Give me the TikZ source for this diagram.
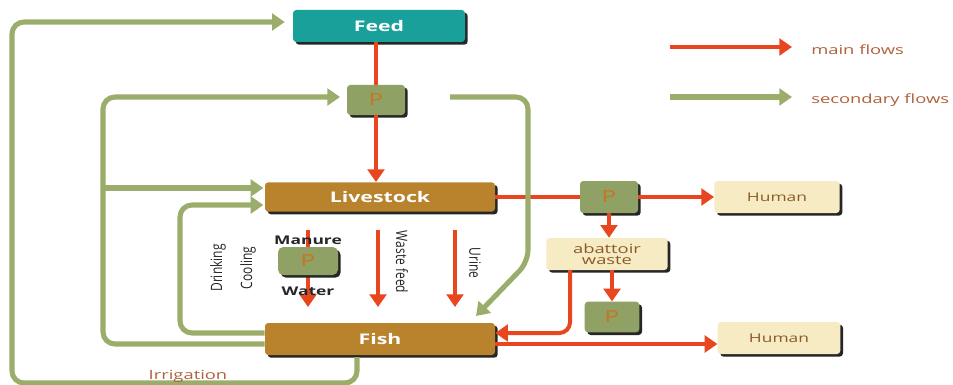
\documentclass[tikz,border=0pt]{standalone}
\usepackage{fontspec}
\setmainfont{Open Sans}
\newfontfamily\wf[FakeStretch=1.45]{Open Sans}
\newcommand\wfb{\wf\bfseries}
\newcommand\tallt[1]{\scalebox{1}[1.3]{#1}}
\usetikzlibrary{arrows.meta,shadows}
\definecolor{cred}{HTML}{E8461E}
\definecolor{cgreen}{HTML}{9BAD6B}
\definecolor{cteal}{HTML}{1AA09A}
\definecolor{cbrown}{HTML}{B8832C}
\definecolor{ccream}{HTML}{F6EBC2}
\definecolor{cpgreen}{HTML}{8FA165}
\definecolor{cptext}{HTML}{C8751E}
\definecolor{chtext}{HTML}{8B5A2B}
\definecolor{cltext}{HTML}{B0603A}
\tikzset{
  box/.style={rectangle, rounded corners=2.5pt, inner sep=0pt,
    drop shadow={shadow xshift=2pt, shadow yshift=-2pt, fill=black!85, opacity=1}},
  tealbox/.style={box, fill=cteal, text=white, font=\wfb\fontsize{11}{12}\selectfont},
  brownbox/.style={box, fill=cbrown, text=white, font=\wfb\fontsize{11}{12}\selectfont},
  creambox/.style={box, fill=ccream, text=chtext, font=\wf\fontsize{9}{10}\selectfont, align=center},
  pbox/.style={box, fill=cpgreen, text=cptext, font=\wf\fontsize{12.5}{13}\selectfont},
  mainflow/.style={draw=cred, line width=3pt, -{Triangle[width=12.5pt,length=9.5pt]}},
  mainline/.style={draw=cred, line width=3pt},
  secflow/.style={draw=cgreen, line width=3.8pt, rounded corners=9pt, -{Triangle[width=12.5pt,length=9.5pt]}},
  lbl/.style={font=\wf\fontsize{9.5}{10}\selectfont, text=cltext, inner sep=0pt},
  dlbl/.style={font=\fontsize{9}{10}\selectfont, text=black!85, inner sep=0pt},
}
\begin{document}
\begin{tikzpicture}[x=0.75pt,y=-0.75pt]
\useasboundingbox[fill=white] (0,0) rectangle (953,385);

% legend
\coordinate (lr1) at (670,47); \coordinate (lr2) at (792,47);
\coordinate (lg1) at (670,97); \coordinate (lg2) at (792,97);
\draw[mainflow] (lr1) -- (lr2);
\draw[secflow] (lg1) -- (lg2);
\node[lbl, anchor=west] (lmain) at (811,50) {main flows};
\node[lbl, anchor=west] (lsec) at (811,100) {secondary flows};

% arrows behind manure P box
\coordinate (ma1) at (308,230); \coordinate (ma2) at (308,307);
\coordinate (wf1) at (378,230); \coordinate (wf2) at (378,307);
\coordinate (ur1) at (455,230); \coordinate (ur2) at (455,307);
\draw[mainflow] (ma1) -- (ma2);
\draw[mainflow] (wf1) -- (wf2);
\draw[mainflow] (ur1) -- (ur2);

% nodes
\node[tealbox, minimum width=129pt, minimum height=24pt] (feed) at (379,26) {Feed};
\node[pbox, minimum width=43.5pt, minimum height=22.5pt] (p1) at (376,100) {P};
\node[brownbox, minimum width=172.5pt, minimum height=22pt] (live) at (380,197) {Livestock};
\node[brownbox, minimum width=172.5pt, minimum height=24pt] (fish) at (380,339) {Fish};
\node[pbox, minimum width=43.5pt, minimum height=24pt] (p2) at (609,197) {P};
\node[creambox, minimum width=94pt, minimum height=24pt] (h1) at (777,197) {Human};
\node[creambox, minimum width=91pt, minimum height=24pt, font=\wf\fontsize{9.5}{8.5}\selectfont] (ab) at (607,254) {abattoir\\waste};
\node[pbox, minimum width=41pt, minimum height=23pt] (p3) at (612,317) {P};
\node[creambox, minimum width=92pt, minimum height=24pt] (h2) at (779,338) {Human};
\node[pbox, minimum width=45pt, minimum height=21pt, rounded corners=4pt] (pm) at (308,261) {P};

% labels
\node[dlbl, font=\wfb\fontsize{9}{10}\selectfont] (manure) at (308,240) {Manure};
\node[dlbl, font=\wfb\fontsize{9}{10}\selectfont] (water) at (308,291) {Water};
\node[dlbl, rotate=90] (drink) at (218,268) {\tallt{Drinking}};
\node[dlbl, rotate=90] (cool) at (248,268) {\tallt{Cooling}};
\node[dlbl, rotate=-90] (waste) at (402,262) {\tallt{Waste feed}};
\node[dlbl, rotate=-90] (urine) at (475,263) {\tallt{Urine}};

% main flows
\draw[mainline] (feed.south -| p1.north) -- (p1.north);
\draw[mainflow] (p1.south) -- (p1.south |- live.north);
\draw[mainline] (live.east) -- (p2.west);
\draw[mainflow] (p2.east) -- (h1.west);
\draw[mainflow] (p2.south) -- (p2.south |- ab.north);
\draw[mainflow] (ab.south -| p3.north) -- (p3.north);
\coordinate (ab1) at (570,270);
\draw[mainflow, rounded corners=8pt] (ab1) -- (570,333) -- (fish.east |- 0,333);
\draw[mainflow] (fish.east |- 0,344) -- (h2.west |- 0,344);

% secondary flows
\coordinate (irr) at (357,357);
\draw[secflow] (irr) -- (357,383) -- (12,383) -- (12,22) -- ([xshift=-6pt]feed.west |- 0,22);
\draw[secflow] (fish.west |- 0,344) -- (103,344) -- (103,97) -- ([xshift=-5pt]p1.west |- 0,97);
\draw[secflow] (103,188) -- ([xshift=-1pt]live.west |- 0,188);
\draw[secflow] (fish.west |- 0,333) -- (180,333) -- (180,205) -- ([xshift=-1pt]live.west |- 0,205);
\coordinate (rs) at (450,97);
\coordinate (re) at (476,316);
\draw[secflow] (rs) -- (528,97) -- (528,262) -- (re);

\node[lbl] (irrl) at (188,376) {Irrigation};
\end{tikzpicture}
\end{document}
